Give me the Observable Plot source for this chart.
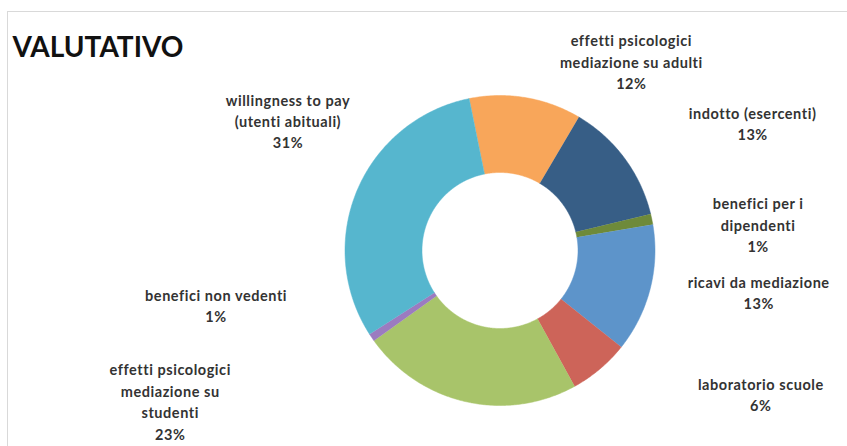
<!DOCTYPE html>
<html>
<head>
<meta charset="utf-8">
<script src="https://cdn.jsdelivr.net/npm/d3@7"></script>
<script src="https://cdn.jsdelivr.net/npm/@observablehq/plot@0.6"></script>
<style>
  html, body { margin: 0; padding: 0; background: #ffffff; }
  #wrap { position: relative; width: 847px; height: 446px; overflow: hidden; }
  #border { position: absolute; left: 7px; top: 11px; width: 900px; height: 500px;
            border-top: 1.5px solid #d9d9d9; border-left: 1.5px solid #d9d9d9; box-sizing: border-box; }
  #chart { position: absolute; left: 0; top: 0; }
  #chart [font-size="14.5"], #chart [font-size="14.5"] text { letter-spacing: 0.55px; }
</style>
</head>
<body>
<div id="wrap"><div id="border"></div><div id="chart"></div></div>
<script>
// ---- data (clockwise from the top of the ring) ----
const title = "VALUTATIVO";
const categories = [
  "effetti psicologici\nmediazione su adulti",
  "indotto (esercenti)",
  "benefici per i\ndipendenti",
  "ricavi da mediazione",
  "laboratorio scuole",
  "effetti psicologici\nmediazione su\nstudenti",
  "benefici non vedenti",
  "willingness to pay\n(utenti abituali)"
];
const shares = [11.7, 12.7, 1.1, 13.4, 6.3, 23.1, 0.8, 30.9];
const colors = ["#F8A65A", "#375E86", "#6E8A3A", "#5D94CA", "#CD6459", "#A8C46A", "#9B7BC0", "#56B6CE"];

// ---- layout ----
const W = 847, H = 446;
const cx = 499.5, cy = 250;          // ring centre (px)
const R = 155, r = 78;               // outer / inner radius (px)
const startDeg = -11.5;              // angle of first slice edge, clockwise from top
const labelDist = 1.45;              // base label distance (× R)
const labelNudge = [[94, -32], [72, -6], [38, -19], [41, 15], [116, 29], [-280, 69], [-98, 72], [-5, 43]];

const total = d3.sum(shares);
const rad = d => d * Math.PI / 180;
let acc = startDeg;
const slices = shares.map((v, i) => {
  const a0 = acc, a1 = acc + v / total * 360;
  acc = a1;
  return {i, name: categories[i], value: v, color: colors[i], a0, a1, mid: (a0 + a1) / 2};
});

// polygon vertices of each ring slice, computed from the values
const pts = [];
for (const s of slices) {
  const n = Math.max(4, Math.ceil((s.a1 - s.a0) / 0.5));
  for (let k = 0; k <= n; k++) {
    const a = rad(s.a0 + (s.a1 - s.a0) * k / n);
    pts.push({name: s.name, color: s.color, x: R * Math.sin(a), y: R * Math.cos(a)});
  }
  for (let k = n; k >= 0; k--) {
    const a = rad(s.a0 + (s.a1 - s.a0) * k / n);
    pts.push({name: s.name, color: s.color, x: r * Math.sin(a), y: r * Math.cos(a)});
  }
}

const labels = slices.map(s => {
  const a = rad(s.mid);
  return {
    text: s.name + "\n" + Math.round(s.value / total * 100) + "%",
    x: labelDist * R * Math.sin(a) + labelNudge[s.i][0],
    y: labelDist * R * Math.cos(a) + labelNudge[s.i][1]
  };
});

const chart = Plot.plot({
  width: W, height: H,
  marginTop: 0, marginRight: 0, marginBottom: 0, marginLeft: 0,
  x: {domain: [-cx, W - cx], axis: null},
  y: {domain: [cy - H, cy], axis: null},
  color: {type: "identity"},
  style: {background: "transparent", overflow: "visible"},
  marks: [
    Plot.line(pts, {x: "x", y: "y", z: "name", fill: "color", stroke: "color", strokeWidth: 0.5, curve: "linear"}),
    Plot.text(labels, {x: "x", y: "y", text: "text", fontSize: 14.5, fontWeight: "bold",
      fontFamily: "Lato", fill: "#333333", lineHeight: 1.48, textAnchor: "middle"}),
    Plot.text([title], {frameAnchor: "top-left", dx: 12, dy: 37, lineAnchor: "top", fontSize: 28,
      fontWeight: "bold", fontFamily: "Lato", fill: "#111111"})
  ]
});
document.getElementById("chart").appendChild(chart);
</script>
</body>
</html>
